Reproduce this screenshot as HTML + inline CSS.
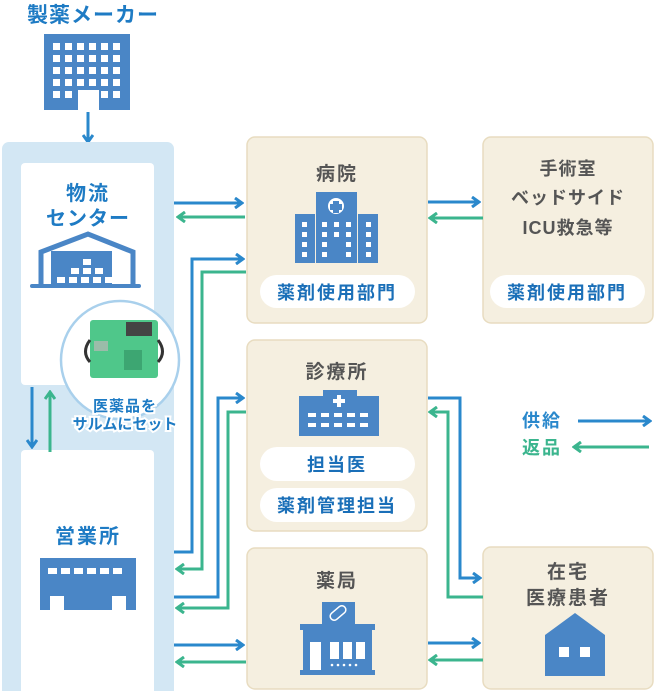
<!DOCTYPE html>
<html><head><meta charset="utf-8"><style>
html,body{margin:0;padding:0;background:#fff}
svg{display:block}
text{font-family:"Liberation Sans","Noto Sans CJK JP",sans-serif;font-weight:bold}
</style></head><body>
<svg width="654" height="691" viewBox="0 0 654 691" xmlns="http://www.w3.org/2000/svg">
<defs>
<marker id="ab" markerWidth="10" markerHeight="12" refX="8" refY="6" orient="auto" markerUnits="userSpaceOnUse"><path d="M1,1 L8,6 L1,11" fill="none" stroke="#2a88cc" stroke-width="3"/></marker>
<marker id="ag" markerWidth="10" markerHeight="12" refX="8" refY="6" orient="auto" markerUnits="userSpaceOnUse"><path d="M1,1 L8,6 L1,11" fill="none" stroke="#3bb58e" stroke-width="3"/></marker>
</defs>

<!-- maker -->
<text x="93" y="22" font-size="21" fill="#1e7bc4" text-anchor="middle" letter-spacing="1">製薬メーカー</text>
<path d="M44,34 H130 V110 H99 V90 H78 V110 H44 Z" fill="#4a86c6"/>
<g fill="#fff">
<rect x="53" y="43" width="7" height="7"/><rect x="65" y="43" width="7" height="7"/><rect x="77" y="43" width="7" height="7"/><rect x="89" y="43" width="7" height="7"/><rect x="101" y="43" width="7" height="7"/><rect x="113" y="43" width="7" height="7"/>
<rect x="53" y="55" width="7" height="7"/><rect x="65" y="55" width="7" height="7"/><rect x="77" y="55" width="7" height="7"/><rect x="89" y="55" width="7" height="7"/><rect x="101" y="55" width="7" height="7"/><rect x="113" y="55" width="7" height="7"/>
<rect x="53" y="67" width="7" height="7"/><rect x="65" y="67" width="7" height="7"/><rect x="77" y="67" width="7" height="7"/><rect x="89" y="67" width="7" height="7"/><rect x="101" y="67" width="7" height="7"/><rect x="113" y="67" width="7" height="7"/>
<rect x="53" y="79" width="7" height="7"/><rect x="65" y="79" width="7" height="7"/><rect x="77" y="79" width="7" height="7"/><rect x="89" y="79" width="7" height="7"/><rect x="101" y="79" width="7" height="7"/><rect x="113" y="79" width="7" height="7"/>
<rect x="53" y="91" width="7" height="7"/><rect x="65" y="91" width="7" height="7"/><rect x="101" y="91" width="7" height="7"/><rect x="113" y="91" width="7" height="7"/>
</g>
<line x1="88" y1="112" x2="88" y2="142" stroke="#2a88cc" stroke-width="3" marker-end="url(#ab)"/>

<!-- left panel -->
<rect x="2" y="142" width="172" height="560" rx="7" fill="#d3e7f4"/>
<rect x="21" y="163" width="133" height="222" rx="4" fill="#fff"/>
<rect x="21" y="450" width="133" height="250" rx="4" fill="#fff"/>
<text x="88" y="200" font-size="20" fill="#1e7bc4" text-anchor="middle" letter-spacing="2">物流</text>
<text x="88" y="225" font-size="20" fill="#1e7bc4" text-anchor="middle" letter-spacing="1">センター</text>
<polyline points="41,285 41,252 88,234 133,252 133,285" fill="none" stroke="#4a86c6" stroke-width="5"/>
<rect x="51" y="251" width="61" height="34" fill="#4a86c6"/>
<line x1="32" y1="286" x2="139" y2="286" stroke="#4a86c6" stroke-width="4" stroke-linecap="round"/>
<g fill="#fff"><rect x="83" y="259" width="8" height="6"/><rect x="71" y="268" width="8" height="6"/><rect x="83" y="268" width="8" height="6"/><rect x="95" y="268" width="8" height="6"/><rect x="57" y="277" width="8" height="6"/><rect x="69" y="277" width="8" height="6"/><rect x="81" y="277" width="8" height="6"/><rect x="93" y="277" width="8" height="6"/><rect x="105" y="277" width="8" height="6"/></g>

<circle cx="120" cy="360" r="59" fill="#fff" stroke="#a9d0ec" stroke-width="2.5"/>
<rect x="90" y="320" width="68" height="58" rx="3" fill="#4fc78a"/>
<rect x="126" y="322" width="26" height="14" fill="#444"/>
<rect x="94" y="341" width="14" height="10" fill="#9bbca9"/>
<rect x="124" y="350" width="18" height="20" fill="#3da672"/>
<path d="M90,340 q-9,12 0,22" fill="none" stroke="#333" stroke-width="3"/>
<path d="M158,340 q9,12 0,22" fill="none" stroke="#333" stroke-width="3"/>
<text x="125" y="411" font-size="15" fill="#1e7bc4" text-anchor="middle" stroke="#fff" stroke-width="4" paint-order="stroke" letter-spacing="1">医薬品を</text>
<text x="125" y="429" font-size="15" fill="#1e7bc4" text-anchor="middle" stroke="#fff" stroke-width="4" paint-order="stroke">サルムにセット</text>
<line x1="32" y1="387" x2="32" y2="447" stroke="#2a88cc" stroke-width="3" marker-end="url(#ab)"/>
<line x1="50" y1="452" x2="50" y2="392" stroke="#3bb58e" stroke-width="3" marker-end="url(#ag)"/>

<text x="88" y="543" font-size="20" fill="#1e7bc4" text-anchor="middle" letter-spacing="2">営業所</text>
<rect x="40" y="558" width="96" height="28" fill="#4a86c6"/>
<path d="M40,586 H136 V610 H126 V596 H50 V610 H40 Z" fill="#4a86c6"/>
<rect x="64" y="594" width="48" height="16" fill="#4a86c6"/>
<g fill="#fff"><rect x="48" y="568" width="9" height="6"/><rect x="61" y="568" width="9" height="6"/><rect x="74" y="568" width="9" height="6"/><rect x="87" y="568" width="9" height="6"/><rect x="100" y="568" width="9" height="6"/><rect x="113" y="568" width="9" height="6"/><rect x="55" y="596" width="8" height="14"/><rect x="113" y="596" width="8" height="14"/></g>

<!-- boxes -->
<g fill="#f5efe0" stroke="#e8dcc0" stroke-width="1.5">
<rect x="247" y="137" width="180" height="186" rx="8"/>
<rect x="483" y="137" width="170" height="186" rx="8"/>
<rect x="247" y="340" width="180" height="191" rx="8"/>
<rect x="247" y="548" width="180" height="141" rx="8"/>
<rect x="483" y="547" width="170" height="142" rx="8"/>
</g>
<g font-size="19" fill="#555" text-anchor="middle" letter-spacing="2">
<text x="337" y="180">病院</text>
<text x="568" y="175" font-size="18" letter-spacing="1">手術室</text>
<text x="568" y="204" font-size="18" letter-spacing="1">ベッドサイド</text>
<text x="568" y="234" font-size="18" letter-spacing="1">ICU救急等</text>
<text x="337" y="378">診療所</text>
<text x="337" y="587">薬局</text>
<text x="568" y="578">在宅</text>
<text x="568" y="604">医療患者</text>
</g>
<g fill="#fff"><rect x="260" y="275" width="155" height="33" rx="16.5"/><rect x="490" y="275" width="155" height="33" rx="16.5"/><rect x="260" y="447" width="155" height="34" rx="17"/><rect x="260" y="488" width="155" height="34" rx="17"/></g>
<g font-size="18" fill="#1a6fb8" text-anchor="middle" letter-spacing="2">
<text x="337" y="299">薬剤使用部門</text><text x="567" y="299">薬剤使用部門</text>
<text x="337" y="471">担当医</text><text x="337" y="512">薬剤管理担当</text>
</g>

<!-- hospital icon -->
<rect x="295" y="214" width="20" height="49" fill="#4a86c6"/><rect x="316" y="192" width="41" height="71" fill="#4a86c6"/><rect x="358" y="214" width="20" height="49" fill="#4a86c6"/>
<circle cx="336" cy="206" r="8" fill="#fff"/><path d="M333,201h6v3h3v6h-3v3h-6v-3h-3v-6h3z" fill="#4a86c6"/>
<g fill="#fff">
<rect x="302" y="222" width="5" height="5"/><rect x="302" y="232" width="5" height="5"/><rect x="302" y="242" width="5" height="5"/><rect x="302" y="252" width="5" height="5"/>
<rect x="366" y="222" width="5" height="5"/><rect x="366" y="232" width="5" height="5"/><rect x="366" y="242" width="5" height="5"/><rect x="366" y="252" width="5" height="5"/>
<rect x="322" y="222" width="5" height="5"/><rect x="334" y="222" width="5" height="5"/><rect x="346" y="222" width="5" height="5"/>
<rect x="322" y="232" width="5" height="5"/><rect x="334" y="232" width="5" height="5"/><rect x="346" y="232" width="5" height="5"/>
<rect x="322" y="242" width="5" height="5"/><rect x="346" y="242" width="5" height="5"/><rect x="322" y="252" width="5" height="5"/><rect x="346" y="252" width="5" height="5"/>
</g>
<!-- clinic icon -->
<rect x="323" y="390" width="34" height="8" fill="#4a86c6"/><rect x="299" y="396" width="80" height="40" fill="#4a86c6"/>
<path d="M337,395h4v4h4v4h-4v4h-4v-4h-4v-4h4z" fill="#fff"/>
<g fill="#fff"><rect x="308" y="413" width="8" height="4"/><rect x="321" y="413" width="8" height="4"/><rect x="334" y="413" width="8" height="4"/><rect x="347" y="413" width="8" height="4"/><rect x="360" y="413" width="8" height="4"/>
<rect x="308" y="423" width="8" height="4"/><rect x="321" y="423" width="8" height="4"/><rect x="334" y="423" width="8" height="4"/><rect x="347" y="423" width="8" height="4"/><rect x="360" y="423" width="8" height="4"/></g>
<!-- pharmacy icon -->
<rect x="322" y="602" width="33" height="24" fill="#4a86c6"/>
<g transform="rotate(-40 338 613)"><rect x="329" y="609" width="18" height="8" rx="4" fill="none" stroke="#fff" stroke-width="1.5"/></g>
<rect x="300" y="624" width="75" height="6" fill="#4a86c6"/><rect x="303" y="630" width="69" height="44" fill="#4a86c6"/><rect x="300" y="670" width="75" height="5" fill="#4a86c6"/>
<g fill="#fff"><rect x="310" y="642" width="11" height="28"/><rect x="330" y="642" width="9" height="17"/><rect x="343" y="642" width="9" height="17"/><rect x="356" y="642" width="9" height="17"/>
<circle cx="332" cy="665" r="1.3"/><circle cx="338" cy="665" r="1.3"/><circle cx="344" cy="665" r="1.3"/><circle cx="350" cy="665" r="1.3"/><circle cx="356" cy="665" r="1.3"/></g>
<!-- house -->
<path d="M545,635 L575,613 L605,635 V676 H545 Z" fill="#4a86c6"/>
<rect x="559" y="647" width="10" height="10" fill="#fff"/><rect x="580" y="647" width="10" height="10" fill="#fff"/>

<!-- connectors -->
<g fill="none" stroke-width="3">
<polyline points="174,203 242,203" stroke="#2a88cc" marker-end="url(#ab)"/>
<polyline points="245,217 178,217" stroke="#3bb58e" marker-end="url(#ag)"/>
<polyline points="174,552 192,552 192,259 243,259" stroke="#2a88cc" marker-end="url(#ab)"/>
<polyline points="246,272 202,272 202,569 177,569" stroke="#3bb58e" marker-end="url(#ag)"/>
<polyline points="174,597 218,597 218,398 243,398" stroke="#2a88cc" marker-end="url(#ab)"/>
<polyline points="246,412 228,412 228,608 177,608" stroke="#3bb58e" marker-end="url(#ag)"/>
<polyline points="174,645 243,645" stroke="#2a88cc" marker-end="url(#ab)"/>
<polyline points="246,662 177,662" stroke="#3bb58e" marker-end="url(#ag)"/>
<polyline points="428,202 479,202" stroke="#2a88cc" marker-end="url(#ab)"/>
<polyline points="483,218 430,218" stroke="#3bb58e" marker-end="url(#ag)"/>
<polyline points="428,398 460,398 460,578 480,578" stroke="#2a88cc" marker-end="url(#ab)"/>
<polyline points="483,597 448,597 448,412 430,412" stroke="#3bb58e" marker-end="url(#ag)"/>
<polyline points="428,643 479,643" stroke="#2a88cc" marker-end="url(#ab)"/>
<polyline points="483,660 430,660" stroke="#3bb58e" marker-end="url(#ag)"/>
<polyline points="578,421 650,421" stroke="#2a88cc" marker-end="url(#ab)"/>
<polyline points="649,447 574,447" stroke="#3bb58e" marker-end="url(#ag)"/>
</g>
<text x="522" y="427" font-size="18" fill="#2a88cc" letter-spacing="2">供給</text>
<text x="522" y="454" font-size="18" fill="#3bb58e" letter-spacing="2">返品</text>
</svg>
</body></html>
